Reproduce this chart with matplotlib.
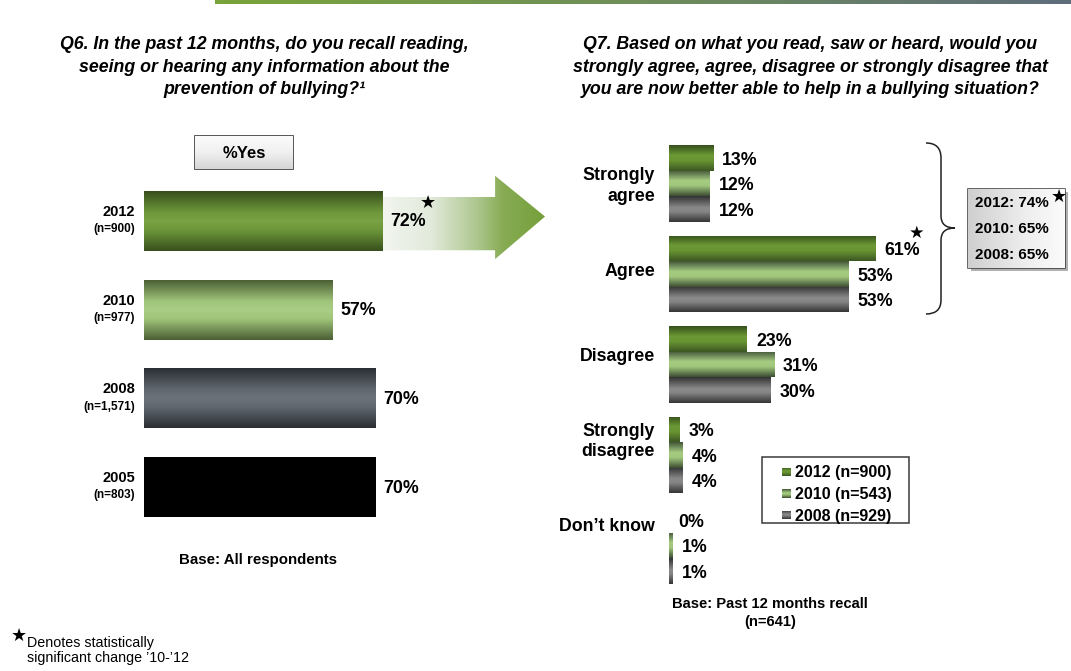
import numpy as np
import matplotlib
matplotlib.use('Agg')
import matplotlib.pyplot as plt
from matplotlib import font_manager
from matplotlib.colors import to_rgb
from matplotlib.patches import Rectangle, Polygon, PathPatch
from matplotlib.path import Path

# Q6 - recall of information about bullying prevention
q6_years = ['2012', '2010', '2008', '2005']
q6_bases = ['(n=900)', '(n=977)', '(n=1,571)', '(n=803)']
q6_yes = [72, 57, 70, 70]
q6_sig = [True, False, False, False]

# Q7 - better able to help in a bullying situation
q7_categories = ['Strongly\nagree', 'Agree', 'Disagree', 'Strongly\ndisagree', 'Don\u2019t know']
q7_series = ['2012 (n=900)', '2010 (n=543)', '2008 (n=929)']
q7_years = ['2012', '2010', '2008']
q7_2012 = [13, 61, 23, 3, 0]
q7_2010 = [12, 53, 31, 4, 1]
q7_2008 = [12, 53, 30, 4, 1]
q7_2012_sig = [False, True, False, False, False]


def pick_font(families):
    for f in families:
        try:
            font_manager.findfont(f, fallback_to_default=False)
            return f
        except ValueError:
            pass
    return 'DejaVu Sans'


SANS = pick_font(['Liberation Sans', 'Arial', 'DejaVu Sans'])
NARROW = pick_font(['Liberation Sans Narrow', 'Arial Narrow', SANS])
STAR = ['DejaVu Sans']
plt.rcParams['font.family'] = [SANS, 'DejaVu Sans']


def ramp(stops, n=64):
    pos = [p for p, _ in stops]
    cols = np.array([to_rgb(c) for _, c in stops])
    t = np.linspace(0, 1, n)
    return np.stack([np.interp(t, pos, cols[:, k]) for k in range(3)], axis=-1)


def fill_gradient(ax, patch, stops, extent, horizontal=False, z=2):
    """Paint a colour ramp inside a patch (vertical ramp unless horizontal)."""
    img = ramp(stops)
    img = img[None, :, :] if horizontal else img[:, None, :]
    im = ax.imshow(img, extent=extent, origin='upper', aspect='auto',
                   interpolation='bilinear', zorder=z)
    im.set_clip_path(patch)
    patch.set_facecolor('none')
    patch.set_edgecolor('none')
    return im


def fill_bar(ax, patch, stops, z=2):
    x0, y0 = patch.get_xy()
    w, h = patch.get_width(), patch.get_height()
    if w <= 0:
        return
    fill_gradient(ax, patch, stops, (x0, x0 + w, y0 + h, y0), z=z)


# bar shading: dark edges, lighter middle
q6_stops = [
    [(0, '#38501d'), (0.35, '#6d973a'), (0.5, '#79a244'), (0.65, '#6d973a'), (1, '#38501d')],
    [(0, '#4c6035'), (0.35, '#9fc47a'), (0.5, '#aacd86'), (0.65, '#9fc47a'), (1, '#4c6035')],
    [(0, '#2b2f34'), (0.35, '#60676f'), (0.5, '#6b727a'), (0.65, '#60676f'), (1, '#2b2f34')],
    [(0, '#000000'), (1, '#000000')],
]
q7_stops = [
    [(0, '#36501c'), (0.4, '#6c9a35'), (0.6, '#689432'), (1, '#3d5722')],
    [(0, '#44563a'), (0.4, '#a4cb80'), (0.6, '#a0c77c'), (1, '#3d4d33')],
    [(0, '#333333'), (0.45, '#8a8a8a'), (0.6, '#858585'), (1, '#363636')],
]

VAL_FS = 12.8

W, H = 1071, 671
fig = plt.figure(figsize=(W / 100, H / 100), dpi=100)


def px_axes(left, top, right, bottom, **kw):
    return fig.add_axes([left / W, 1 - bottom / H, (right - left) / W, (bottom - top) / H], **kw)


# overlay in pixel units for frames, brace and notes
deco = px_axes(0, 0, W, H)
deco.set_xlim(0, W)
deco.set_ylim(H, 0)
deco.axis('off')

# header strip
strip = Rectangle((215, 0), W - 215, 4.5)
deco.add_patch(strip)
fill_gradient(deco, strip, [(0, '#79a43b'), (0.5, '#6f8e5a'), (1, '#5f6d7b')],
              (215, W, 4.5, 0), horizontal=True)

# question titles
title_kw = dict(ha='center', va='center', fontsize=12.8, fontweight='bold',
                fontstyle='italic', family=[NARROW, 'DejaVu Sans'], linespacing=1.43)
deco.text(264, 67, 'Q6. In the past 12 months, do you recall reading,\n'
          'seeing or hearing any information about the\n'
          'prevention of bullying?\u00b9', **title_kw)
deco.text(810, 67, 'Q7. Based on what you read, saw or heard, would you\n'
          'strongly agree, agree, disagree or strongly disagree that\n'
          'you are now better able to help in a bullying situation?', **title_kw)

# ---- left panel: %Yes by year ----
PX_L = 3.306
axL = px_axes(144, 132.3, 144 + 122 * PX_L, 575.7)
yL = np.arange(len(q6_years))
barsL = axL.barh(yL, q6_yes, height=0.676)

# arrow out of the 2012 bar toward the Q7 panel
v, c = q6_yes[0], yL[0]
arrow = Polygon([(v, c - 0.27), (v + 34.2, c - 0.27), (v + 34.2, c - 0.51),
                 (v + 49.3, c - 0.05), (v + 34.2, c + 0.43), (v + 34.2, c + 0.33),
                 (v, c + 0.33)], closed=True)
axL.add_patch(arrow)
fill_gradient(axL, arrow, [(0, '#f2f5ee'), (0.3, '#e2eadb'), (0.6, '#aac58a'),
                           (0.75, '#86ab52'), (1, '#76a03c')],
              (v, v + 49.3, c + 0.43, c - 0.51), horizontal=True, z=1)

for bar, stops in zip(barsL, q6_stops):
    fill_bar(axL, bar, stops)

for i, (yr, base, val, sig) in enumerate(zip(q6_years, q6_bases, q6_yes, q6_sig)):
    axL.text(-2.72, i - 0.10, yr, ha='right', va='center', fontsize=10.5, fontweight='bold')
    axL.text(-2.72, i + 0.095, base, ha='right', va='center', fontsize=8.5, fontweight='bold')
    axL.annotate(f'{val}%', (val, i), xytext=(8, -1), textcoords='offset pixels',
                 ha='left', va='center', fontsize=VAL_FS, fontweight='bold', zorder=5)
    if sig:
        axL.annotate('\u2605', (val, i), xytext=(46, 18), textcoords='offset pixels',
                     ha='center', va='center', fontsize=13, family=STAR, zorder=5)

axL.set_xlim(0, 122)
axL.set_ylim(4, -1)
axL.axis('off')

# %Yes label box
yes_box = Rectangle((195, 136), 98, 33)
deco.add_patch(yes_box)
fill_gradient(deco, yes_box, [(0, '#fbfbfb'), (0.5, '#f0f0f0'), (1, '#d6d6d6')],
              (195, 293, 169, 136))
deco.add_patch(Rectangle((195, 136), 98, 33, fill=False, ec='#3a3a3a', lw=1.2))
deco.text(244, 153, '%Yes', ha='center', va='center', fontsize=12, fontweight='bold')
deco.text(258, 560, 'Base: All respondents', ha='center', va='center',
          fontsize=10.8, fontweight='bold')

# ---- right panel: agreement by year ----
PX_R = 3.39
axR = px_axes(669, 120.2, 669 + 100 * PX_R, 608.85)
bh = 0.2818
yR = np.arange(len(q7_categories))
for k, (vals, sig, stops) in enumerate(zip([q7_2012, q7_2010, q7_2008],
                                            [q7_2012_sig, [False] * 5, [False] * 5],
                                            q7_stops)):
    pos = yR + (k - 1) * bh
    bars = axR.barh(pos, vals, height=bh)
    for bar in bars:
        fill_bar(axR, bar, stops)
    for p, val, s in zip(pos, vals, sig):
        axR.annotate(f'{val}%', (val, p), xytext=(9, -2), textcoords='offset pixels',
                     ha='left', va='center', fontsize=VAL_FS, fontweight='bold', zorder=5)
        if s:
            axR.annotate('\u2605', (val, p), xytext=(41, 16), textcoords='offset pixels',
                         ha='center', va='center', fontsize=12.5, family=STAR, zorder=5)

for i, cat in enumerate(q7_categories):
    axR.text(-4.13, 0.03 + 0.94 * i, cat, ha='right', va='center', fontsize=12.8,
             fontweight='bold', linespacing=1.28)

axR.set_xlim(0, 100)
axR.set_ylim(4.7, -0.7)
axR.axis('off')

# brace grouping strongly agree + agree
brace = Path([(926, 143), (941, 143), (941, 158), (941, 216), (941, 228), (955, 228),
              (941, 228), (941, 240), (941, 300), (941, 314), (926, 314)],
             [Path.MOVETO, Path.CURVE3, Path.CURVE3, Path.LINETO, Path.CURVE3, Path.CURVE3,
              Path.CURVE3, Path.CURVE3, Path.LINETO, Path.CURVE3, Path.CURVE3])
deco.add_patch(PathPatch(brace, fill=False, ec='#222222', lw=1.1))

# combined agree totals
tot_box = Rectangle((968, 189), 97, 79)
deco.add_patch(Rectangle((970.5, 191.5), 97, 79, fc='#b0b0b0', ec='none'))
deco.add_patch(tot_box)
fill_gradient(deco, tot_box, [(0, '#cfcfcf'), (0.6, '#eeeeee'), (1, '#fbfbfb')],
              (968, 1065, 268, 189), horizontal=True)
deco.add_patch(Rectangle((968, 189), 97, 79, fill=False, ec='#3a3a3a', lw=1.1))
for j, (yr, vals) in enumerate(zip(q7_years, [q7_2012, q7_2010, q7_2008])):
    deco.text(975, 203 + 26 * j, f'{yr}: {vals[0] + vals[1]}%', ha='left', va='center',
              fontsize=11, fontweight='bold')
deco.text(1059, 197, '\u2605', ha='center', va='center', fontsize=13, family=STAR)

# legend
deco.add_patch(Rectangle((762, 457), 147, 66, fc='white', ec='#3a3a3a', lw=1.1, zorder=3))
for j, (name, stops) in enumerate(zip(q7_series, q7_stops)):
    yy = 472 + 21.5 * j
    sq = Rectangle((782, yy - 4.5), 9, 9, zorder=4)
    deco.add_patch(sq)
    fill_gradient(deco, sq, stops, (782, 791, yy + 4.5, yy - 4.5), z=4)
    deco.text(795, yy + 1, name, ha='left', va='center', fontsize=11.5,
              fontweight='bold', zorder=5)

deco.text(770, 604, 'Base: Past 12 months recall', ha='center', va='center',
          fontsize=10.6, fontweight='bold')
deco.text(770, 622, '(n=641)', ha='center', va='center', fontsize=10.6, fontweight='bold')

# footnote
deco.text(19, 636, '\u2605', ha='center', va='center', fontsize=13, family=STAR)
deco.text(27, 643, 'Denotes statistically', ha='left', va='center', fontsize=10.3)
deco.text(27, 658, 'significant change \u201910-\u201912', ha='left', va='center', fontsize=10.3)

deco.set_xlim(0, W)
deco.set_ylim(H, 0)

fig.savefig('out.png', dpi=100)
